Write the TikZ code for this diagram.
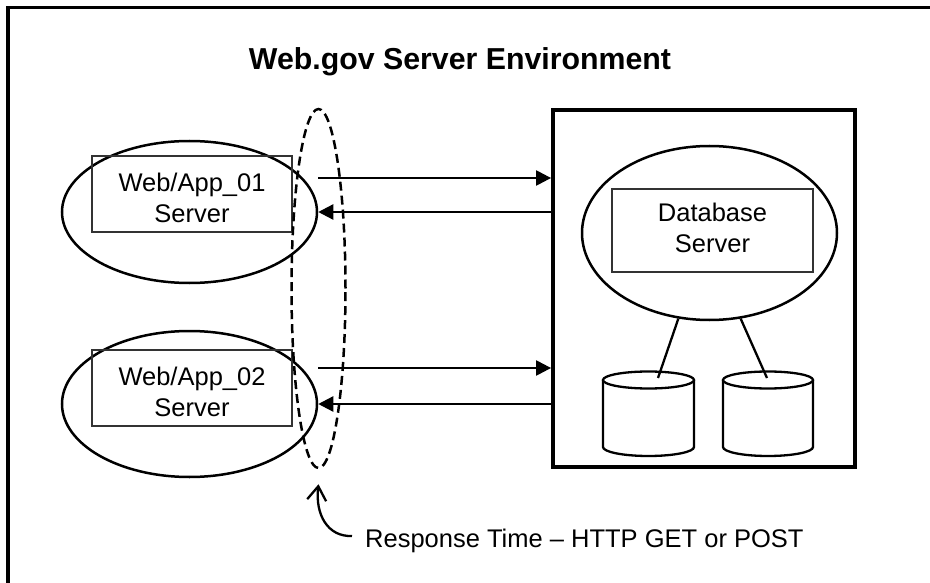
\documentclass[tikz,border=0pt]{standalone}
\usepackage{fontspec}
\setmainfont{Liberation Sans}
\usetikzlibrary{arrows.meta,shapes.geometric,calc}
\tikzset{
  bodytext/.style={font=\fontsize{25.5pt}{31pt}\selectfont, align=center},
  srvell/.style={draw, ellipse, line width=2.5pt, inner sep=0pt},
  srvbox/.style={draw=black!80, line width=1.4pt, inner sep=0pt, minimum width=200pt, minimum height=76pt},
  arr/.style={line width=2.3pt, -{Triangle[length=15pt,width=15pt]}},
  link/.style={line width=2.3pt},
  cyl/.style={line width=2.3pt, fill=white},
}
\begin{document}
\begin{tikzpicture}[x=1pt,y=-1pt]
\useasboundingbox (0,0) rectangle (930,583);
\clip (0,0) rectangle (930,583);
\fill[white] (0,0) rectangle (930,583);
% outer frame (cut off at right and bottom)
\draw[line width=3.2pt] (8,700) -- (8,7.5) -- (1000,7.5);
% title
\node[anchor=base, font=\fontsize{30.3pt}{36pt}\selectfont\bfseries, inner sep=0pt] (title) at (460,70) {Web.gov Server Environment};
% web/app servers
\node[srvell, minimum width=255pt, minimum height=142pt] (web1) at (189.5,212) {};
\node[srvbox] (box1) at (192,194) {};
\node[bodytext, inner sep=0pt] (t1) at (192,197.5) {Web/App\_01\\Server};
\node[srvell, minimum width=255pt, minimum height=146pt] (web2) at (189.5,404) {};
\node[srvbox] (box2) at (192,388) {};
\node[bodytext, inner sep=0pt] (t2) at (192,391.5) {Web/App\_02\\Server};
% database environment
\node[draw, line width=3.8pt, minimum width=302pt, minimum height=357pt, inner sep=0pt] (srv) at (704,288.5) {};
\node[srvell, minimum width=255pt, minimum height=174pt] (db) at (709.5,233) {};
\node[srvbox, minimum width=201pt, minimum height=83pt] (dbbox) at (712.5,230.5) {};
\node[bodytext, inner sep=0pt] (t3) at (712.5,227.5) {Database\\Server};
% cylinders
\draw[cyl] (603,380) -- (603,447) arc[start angle=180,end angle=360,x radius=45.5pt,y radius=9pt] -- (694,380);
\draw[cyl] (648.5,380) ellipse[x radius=45.5pt,y radius=8.5pt];
\draw[cyl] (723,380) -- (723,447) arc[start angle=180,end angle=360,x radius=45pt,y radius=9pt] -- (813,380);
\draw[cyl] (768,380) ellipse[x radius=45pt,y radius=8.5pt];
\coordinate (c1) at (658,378);
\coordinate (c2) at (767,378);
\draw[link] (db.250) -- (c1);
\draw[link] (db.290) -- (c2);
% arrows
\coordinate (a1) at ([yshift=34pt]web1.east);
\coordinate (a2) at ([yshift=36pt]web2.east);
\draw[arr] (a1) -- (a1 -| srv.west);
\draw[arr] (web1.east -| srv.west) -- (web1.east);
\draw[arr] (a2) -- (a2 -| srv.west);
\draw[arr] (web2.east -| srv.west) -- (web2.east);
% response time
\node[draw, ellipse, dash pattern=on 9pt off 5pt, line width=2.5pt, minimum width=54pt, minimum height=359pt, inner sep=0pt] (rt) at (318.5,288.5) {};
\node[bodytext, anchor=base west, inner sep=0pt] (lbl) at (365,547) {Response Time – HTTP GET or POST};
\coordinate (lblstart) at (352,536);
\draw[line width=2.3pt, -{Straight Barb[length=14pt,width=19pt]}] (lblstart) .. controls (328,537) and (315,515) .. ([yshift=-15pt]rt.south);
\end{tikzpicture}
\end{document}
